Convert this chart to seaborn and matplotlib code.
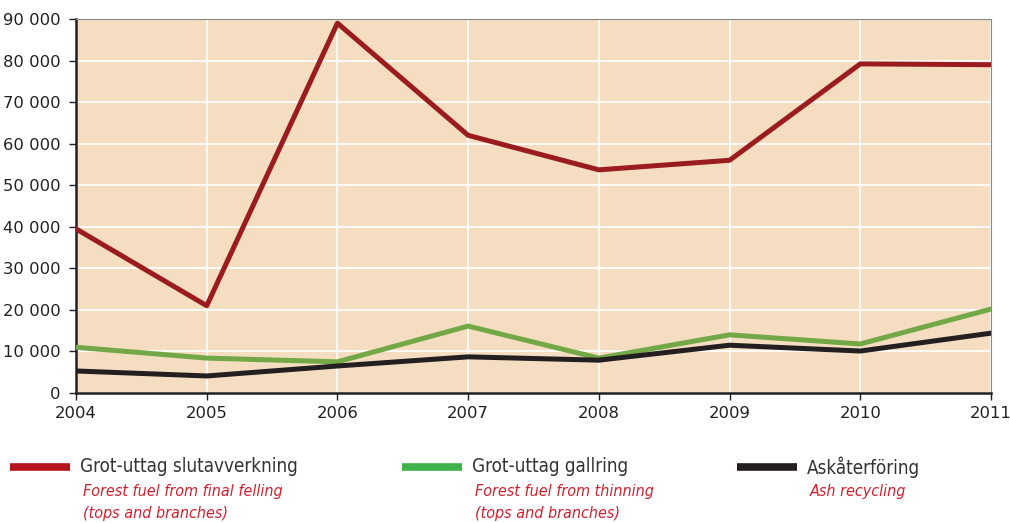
import matplotlib
matplotlib.use("Agg")
import matplotlib.pyplot as plt
import seaborn as sns
import pandas as pd
from matplotlib.ticker import FuncFormatter, MultipleLocator

years = [2004, 2005, 2006, 2007, 2008, 2009, 2010, 2011]
final_felling = [39500, 21000, 89000, 62000, 53700, 56000, 79200, 79000]
thinning = [11000, 8400, 7500, 16100, 8400, 14000, 11800, 20200]
ash_recycling = [5300, 4100, 6500, 8700, 7900, 11500, 10100, 14400]

series_names = ["Grot-uttag slutavverkning", "Grot-uttag gallring", "Askåterföring"]
series_en = ["Forest fuel from final felling\n(tops and branches)",
             "Forest fuel from thinning\n(tops and branches)",
             "Ash recycling"]
line_colors = ["#9B1C1F", "#72A845", "#231F20"]
legend_colors = ["#B5161B", "#3FB34A", "#231F20"]

df = pd.concat([
    pd.DataFrame({"year": years, "value": vals, "series": name})
    for name, vals in zip(series_names, [final_felling, thinning, ash_recycling])
])

sns.set_style("white")
plt.rcParams['font.family'] = ['DejaVu Sans']

fig = plt.figure(figsize=(10.10, 5.23), dpi=100)
ax = fig.add_axes([76/1010, 1-393/523, (991-76)/1010, (393-19)/523])
ax.set_facecolor("#F4DDC1")

sns.lineplot(data=df, x="year", y="value", hue="series", palette=line_colors,
             hue_order=series_names, linewidth=3.6, legend=False, ax=ax, zorder=3)

ax.set_xlim(2004, 2011)
ax.set_ylim(0, 90000)
ax.set_xticks(years)
ax.yaxis.set_major_locator(MultipleLocator(10000))
ax.yaxis.set_major_formatter(FuncFormatter(lambda v, p: f"{int(v):,}".replace(",", " ")))
ax.grid(True, color="white", linewidth=1.2, zorder=1)
ax.set_axisbelow(True)
ax.set_xlabel("")
ax.set_ylabel("")
ax.tick_params(axis="both", labelsize=11.8, colors="#231F20", length=5, width=1, direction="out",
               bottom=True, left=True)
ax.tick_params(axis="y", pad=6)
ax.tick_params(axis="x", pad=4)
for s in ["left", "bottom"]:
    ax.spines[s].set_color("#231F20")
    ax.spines[s].set_linewidth(1.8)
for s in ["top", "right"]:
    ax.spines[s].set_color("#888888")
    ax.spines[s].set_linewidth(0.8)

# custom legend
xs_line = [10, 402, 737]
for i, name in enumerate(series_names):
    x0 = xs_line[i]
    y = 1 - 467/523
    fig.add_artist(plt.Line2D([x0/1010, (x0+60)/1010], [y, y], color=legend_colors[i],
                              linewidth=5.5, solid_capstyle="butt", transform=fig.transFigure))
    fig.text((x0+70)/1010, y, name, fontsize=13.5, color="#333333", va="center",
             ha="left", fontstretch="condensed")
    fig.text((x0+73)/1010, 1-484/523, series_en[i], fontsize=11.5, color="#D0202E",
             style="italic", va="top", ha="left", linespacing=1.6, fontstretch="condensed")

fig.savefig("out.png", dpi=100)
